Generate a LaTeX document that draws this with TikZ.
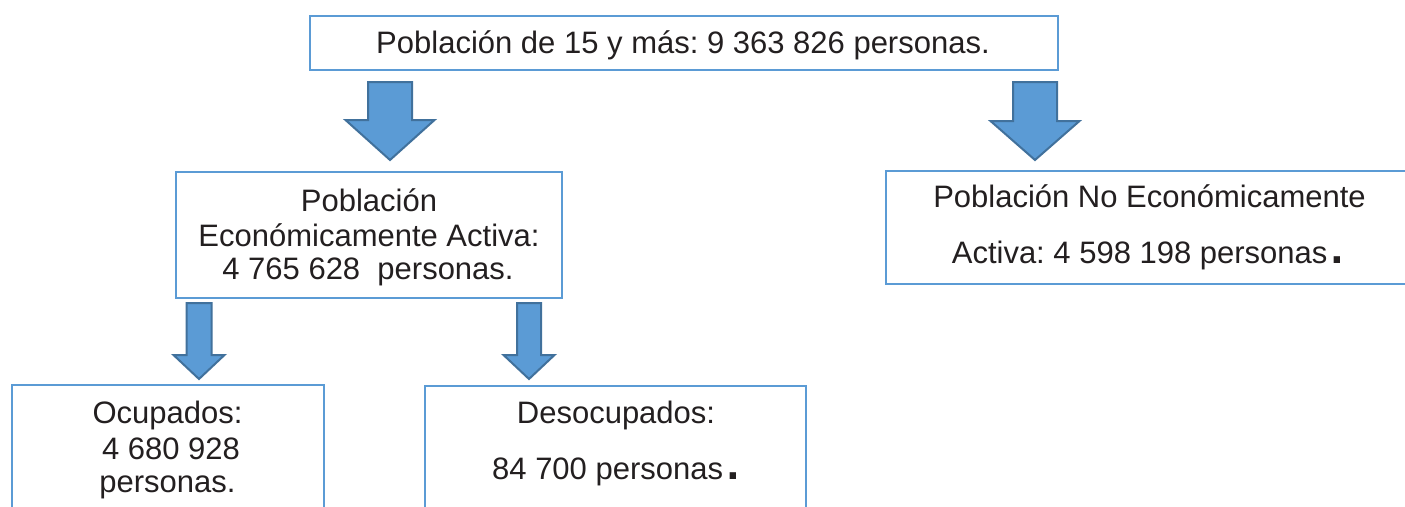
\documentclass[tikz,border=0pt]{standalone}
\usepackage{fontspec}
\setmainfont{Liberation Sans}
\newfontfamily\dotfont{DejaVu Sans}
\definecolor{boxblue}{RGB}{91,155,213}
\definecolor{arrfill}{RGB}{91,155,213}
\definecolor{arrline}{RGB}{65,113,156}
\definecolor{txt}{RGB}{35,31,32}
\newcommand{\sqdot}{\kern3pt{\dotfont\bfseries\fontsize{36}{36}\selectfont.}}
\newcommand{\blockarrow}[6]{%
  \draw[arrowsty] ({#1-#5},#2) -- ({#1+#5},#2) -- ({#1+#5},#3) -- ({#1+#6},#3)
    -- (#1,#4) -- ({#1-#6},#3) -- ({#1-#5},#3) -- cycle;}
\frenchspacing
\begin{document}
\begin{tikzpicture}[x=1pt,y=-1pt,
  box/.style={draw=boxblue, line width=2pt, fill=white, inner sep=0pt, rectangle},
  lbl/.style={anchor=base, inner sep=0pt, text=txt, font=\frenchspacing\fontsize{31}{36}\selectfont},
  arrowsty/.style={fill=arrfill, draw=arrline, line width=2pt, line join=miter}]
\useasboundingbox (0,0) rectangle (1405,506);
\clip (0,0) rectangle (1405,506);
\fill[white] (0,0) rectangle (1405,506);

% boxes
\node[box, minimum width=748pt, minimum height=54pt] (top) at (684,43) {};
\node[box, minimum width=386pt, minimum height=126pt] (pea) at (369,235) {};
\node[box, minimum width=530pt, minimum height=113pt] (pnea) at (1151,227.5) {};
\node[box, minimum width=312pt, minimum height=135pt] (ocu) at (168,452.5) {};
\node[box, minimum width=381pt, minimum height=134pt] (deso) at (615.5,453) {};

% texts
\node[lbl] (ttop) at (683,53) {Población de 15 y más: 9 363 826 personas.};
\node[lbl] (pea1) at (369,211) {Población};
\node[lbl] (pea2) at (369,246) {Económicamente Activa:};
\node[lbl] (pea3) at (368,279) {4 765 628\ \ personas.};
\node[lbl] (pnea1) at (1149.5,207) {Población No Económicamente};
\node[lbl] (pnea2) at (1148,263) {Activa: 4 598 198 personas\sqdot};
\node[lbl] (ocu1) at (167.5,423) {Ocupados:};
\node[lbl] (ocu2) at (171,459) {4 680 928};
\node[lbl] (ocu3) at (167.5,492) {personas.};
\node[lbl] (deso1) at (616,423) {Desocupados:};
\node[lbl] (deso2) at (616,479) {84 700 personas\sqdot};

% block arrows
\blockarrow{390}{82}{120}{160}{22}{44.5}
\blockarrow{1035}{82}{121}{160}{22}{44.5}
\blockarrow{199}{303}{355}{379}{12.5}{25.5}
\blockarrow{529}{303}{355}{379}{12}{25.5}
\end{tikzpicture}
\end{document}
